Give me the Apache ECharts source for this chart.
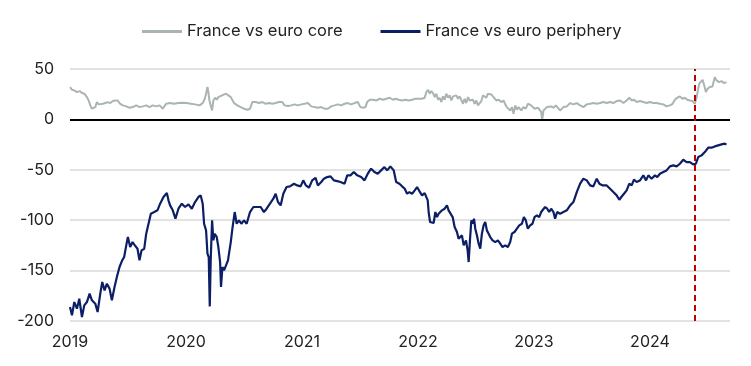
<!DOCTYPE html>
<html>
<head>
<meta charset="utf-8">
<script src="https://cdn.jsdelivr.net/npm/echarts@6/dist/echarts.min.js"></script>
<style>html,body{margin:0;padding:0;background:#fff}#c{width:751px;height:366px}</style>
</head>
<body>
<div id="c"></div>
<script>
// X values are decimal years
const periYears = [2019.000,2019.017,2019.037,2019.060,2019.080,2019.103,2019.123,2019.146,2019.169,2019.189,2019.218,2019.238,2019.261,2019.278,2019.298,2019.318,2019.341,2019.361,2019.384,2019.404,2019.427,2019.450,2019.467,2019.485,2019.499,2019.519,2019.539,2019.559,2019.582,2019.599,2019.617,2019.640,2019.657,2019.677,2019.697,2019.726,2019.754,2019.777,2019.806,2019.835,2019.849,2019.863,2019.886,2019.909,2019.935,2019.964,2019.992,2020.021,2020.050,2020.078,2020.107,2020.127,2020.144,2020.156,2020.173,2020.185,2020.196,2020.205,2020.213,2020.225,2020.236,2020.248,2020.265,2020.279,2020.294,2020.302,2020.314,2020.328,2020.345,2020.362,2020.386,2020.400,2020.420,2020.437,2020.457,2020.477,2020.500,2020.523,2020.552,2020.581,2020.609,2020.644,2020.672,2020.695,2020.724,2020.753,2020.773,2020.793,2020.816,2020.839,2020.867,2020.896,2020.931,2020.959,2020.988,2021.011,2021.034,2021.060,2021.088,2021.117,2021.137,2021.166,2021.189,2021.217,2021.246,2021.275,2021.304,2021.332,2021.367,2021.390,2021.418,2021.447,2021.476,2021.510,2021.539,2021.567,2021.596,2021.625,2021.653,2021.682,2021.711,2021.734,2021.762,2021.791,2021.800,2021.812,2021.840,2021.863,2021.886,2021.906,2021.926,2021.949,2021.972,2021.992,2022.012,2022.035,2022.058,2022.072,2022.084,2022.092,2022.104,2022.121,2022.135,2022.150,2022.164,2022.178,2022.207,2022.230,2022.250,2022.264,2022.279,2022.299,2022.316,2022.336,2022.350,2022.365,2022.379,2022.394,2022.414,2022.428,2022.437,2022.448,2022.460,2022.471,2022.483,2022.494,2022.508,2022.523,2022.537,2022.551,2022.566,2022.580,2022.594,2022.609,2022.623,2022.643,2022.666,2022.689,2022.709,2022.729,2022.752,2022.775,2022.795,2022.810,2022.832,2022.853,2022.873,2022.896,2022.913,2022.930,2022.947,2022.967,2022.987,2023.005,2023.025,2023.045,2023.062,2023.079,2023.096,2023.114,2023.131,2023.148,2023.168,2023.182,2023.200,2023.217,2023.225,2023.254,2023.283,2023.312,2023.340,2023.369,2023.398,2023.426,2023.455,2023.484,2023.512,2023.541,2023.564,2023.593,2023.627,2023.656,2023.684,2023.713,2023.736,2023.753,2023.776,2023.799,2023.822,2023.842,2023.862,2023.885,2023.914,2023.943,2023.966,2023.986,2024.014,2024.043,2024.063,2024.086,2024.115,2024.143,2024.172,2024.201,2024.230,2024.258,2024.287,2024.316,2024.344,2024.373,2024.396,2024.416,2024.445,2024.473,2024.502,2024.531,2024.559,2024.588,2024.617,2024.645,2024.660];
const periVals = [-186.1,-194.4,-181.2,-187.8,-177.9,-196.0,-184.5,-181.2,-172.9,-179.5,-182.8,-191.1,-172.9,-161.3,-169.6,-163.0,-167.9,-179.5,-166.3,-156.4,-146.4,-139.8,-136.5,-125.0,-116.7,-126.6,-121.7,-125.0,-128.3,-139.8,-129.9,-128.3,-113.4,-103.5,-93.6,-91.9,-90.2,-83.6,-77.0,-73.1,-80.3,-85.3,-90.2,-98.5,-88.6,-83.6,-86.9,-84.3,-88.6,-82.0,-77.0,-75.4,-83.6,-103.5,-110.1,-133.2,-136.5,-185.5,-139.8,-100.2,-120.0,-113.4,-116.7,-126.6,-141.5,-166.3,-146.4,-149.8,-148.1,-139.8,-121.7,-108.4,-91.9,-103.5,-100.2,-103.5,-100.2,-103.5,-91.9,-86.9,-86.9,-86.9,-91.9,-88.6,-83.6,-78.7,-73.7,-82.0,-85.3,-73.7,-67.1,-66.4,-63.8,-65.5,-66.4,-60.5,-65.5,-67.8,-60.5,-57.9,-65.5,-62.1,-58.8,-57.2,-56.5,-60.5,-61.2,-62.1,-63.8,-55.5,-55.5,-52.2,-55.5,-57.2,-60.5,-53.9,-48.9,-52.2,-53.9,-50.6,-47.3,-50.6,-46.6,-50.6,-50.0,-62.1,-63.8,-66.4,-68.8,-73.7,-72.1,-73.7,-70.4,-67.1,-71.1,-75.4,-73.1,-73.7,-80.3,-91.9,-101.8,-100.2,-102.8,-91.9,-96.9,-93.6,-90.2,-88.6,-85.3,-90.2,-91.9,-96.9,-106.8,-111.7,-118.3,-120.0,-115.0,-125.0,-120.0,-129.9,-141.5,-120.0,-100.2,-103.5,-98.5,-108.4,-115.0,-123.3,-128.3,-113.4,-105.1,-101.8,-110.1,-113.4,-116.7,-120.0,-121.7,-120.0,-123.3,-126.6,-125.0,-126.6,-121.7,-113.4,-111.7,-108.4,-105.1,-103.5,-96.9,-100.2,-108.4,-105.1,-103.5,-96.9,-95.2,-96.9,-91.9,-90.2,-86.9,-88.6,-91.9,-88.6,-91.9,-98.5,-91.9,-90.2,-93.6,-91.9,-90.2,-85.3,-82.0,-72.1,-63.8,-58.8,-60.5,-65.5,-66.4,-58.8,-63.8,-65.5,-65.5,-68.8,-72.1,-75.4,-79.7,-77.0,-73.7,-70.4,-63.8,-65.5,-59.8,-62.1,-60.5,-55.5,-60.5,-55.5,-58.8,-55.5,-57.2,-53.9,-52.2,-50.6,-46.6,-45.6,-46.6,-44.0,-40.0,-42.3,-42.3,-44.6,-44.0,-37.4,-35.7,-32.4,-28.1,-28.1,-26.8,-25.8,-24.8,-24.1,-24.8];

const coreYears = [2019.000,2019.017,2019.037,2019.060,2019.083,2019.103,2019.123,2019.146,2019.161,2019.175,2019.189,2019.204,2019.218,2019.232,2019.247,2019.261,2019.284,2019.304,2019.324,2019.347,2019.370,2019.390,2019.410,2019.433,2019.456,2019.485,2019.513,2019.542,2019.571,2019.600,2019.628,2019.657,2019.686,2019.714,2019.743,2019.772,2019.800,2019.829,2019.863,2019.898,2019.935,2019.973,2020.007,2020.041,2020.079,2020.116,2020.144,2020.162,2020.173,2020.185,2020.193,2020.202,2020.213,2020.225,2020.236,2020.251,2020.265,2020.279,2020.294,2020.311,2020.328,2020.345,2020.365,2020.386,2020.414,2020.443,2020.472,2020.500,2020.529,2020.552,2020.572,2020.601,2020.629,2020.658,2020.687,2020.715,2020.744,2020.773,2020.801,2020.830,2020.850,2020.879,2020.908,2020.936,2020.965,2020.994,2021.022,2021.051,2021.080,2021.108,2021.137,2021.166,2021.194,2021.223,2021.252,2021.281,2021.309,2021.338,2021.367,2021.395,2021.424,2021.453,2021.481,2021.504,2021.527,2021.547,2021.562,2021.585,2021.613,2021.642,2021.671,2021.699,2021.728,2021.757,2021.785,2021.806,2021.834,2021.863,2021.892,2021.920,2021.949,2021.978,2022.006,2022.035,2022.058,2022.072,2022.087,2022.101,2022.115,2022.130,2022.144,2022.158,2022.173,2022.187,2022.201,2022.216,2022.230,2022.244,2022.259,2022.273,2022.287,2022.302,2022.316,2022.330,2022.345,2022.359,2022.373,2022.388,2022.402,2022.416,2022.431,2022.445,2022.460,2022.474,2022.488,2022.503,2022.517,2022.531,2022.546,2022.560,2022.574,2022.589,2022.603,2022.617,2022.632,2022.646,2022.660,2022.675,2022.695,2022.718,2022.738,2022.752,2022.766,2022.781,2022.795,2022.810,2022.824,2022.838,2022.853,2022.867,2022.890,2022.910,2022.930,2022.947,2022.962,2022.976,2022.990,2023.005,2023.019,2023.033,2023.048,2023.062,2023.071,2023.082,2023.096,2023.111,2023.125,2023.148,2023.168,2023.188,2023.205,2023.225,2023.254,2023.283,2023.312,2023.340,2023.369,2023.398,2023.426,2023.455,2023.484,2023.512,2023.541,2023.570,2023.598,2023.627,2023.656,2023.684,2023.713,2023.742,2023.771,2023.799,2023.822,2023.842,2023.862,2023.885,2023.914,2023.943,2023.971,2024.000,2024.029,2024.057,2024.086,2024.115,2024.143,2024.172,2024.195,2024.215,2024.235,2024.258,2024.281,2024.301,2024.321,2024.344,2024.367,2024.387,2024.402,2024.413,2024.425,2024.439,2024.454,2024.468,2024.482,2024.497,2024.516,2024.539,2024.559,2024.573,2024.596,2024.617,2024.637,2024.660];
const coreVals = [32.1,29.4,28.8,27.1,28.1,26.1,25.5,22.1,18.8,13.9,10.6,8.9,12.2,17.2,14.9,16.2,15.5,16.2,17.2,16.2,18.2,18.8,18.8,15.5,13.9,12.9,11.6,12.2,13.9,12.2,12.9,13.9,12.2,13.9,12.9,13.9,10.6,15.5,16.2,15.5,16.2,16.5,16.2,15.5,14.9,13.9,16.2,20.5,25.5,32.1,27.1,18.8,13.9,8.9,18.8,21.5,19.5,22.1,20.5,23.8,22.8,25.5,23.8,22.1,16.2,13.9,12.2,10.6,9.6,10.6,17.2,17.2,16.2,17.2,15.5,16.2,15.5,16.2,17.2,17.2,13.9,13.2,13.9,14.9,13.9,14.9,15.5,16.2,12.9,12.2,11.6,12.2,10.6,10.6,12.9,13.9,14.9,13.9,15.5,16.2,14.9,16.2,17.2,12.2,11.6,12.2,17.2,19.5,19.5,18.8,20.5,19.5,20.5,21.5,19.5,20.5,19.5,18.8,19.5,18.8,19.5,20.5,20.5,20.5,21.5,27.1,29.4,25.5,28.1,26.1,22.1,25.5,19.5,21.5,17.2,22.8,19.5,25.5,21.5,23.8,18.8,22.8,21.5,23.8,20.5,22.8,19.5,15.5,20.5,16.2,22.1,18.8,17.2,19.5,15.5,18.8,13.9,15.5,18.2,23.8,25.5,21.5,25.5,23.8,24.8,22.8,22.1,18.8,19.5,17.2,18.8,14.9,12.2,13.9,8.9,12.2,5.6,13.9,9.6,12.2,8.9,12.2,10.6,15.5,16.2,13.9,12.2,10.6,8.9,11.6,9.6,7.3,-0.3,8.9,9.6,12.2,10.6,12.9,11.6,13.9,12.9,8.9,12.2,12.9,16.2,14.9,16.2,13.9,12.2,14.9,15.5,16.2,15.5,16.2,17.2,16.2,17.2,16.2,18.2,18.8,16.2,18.8,21.5,18.8,19.5,17.2,18.2,17.2,16.2,17.2,16.2,16.2,15.5,14.9,12.9,13.9,15.5,19.5,21.5,22.8,20.5,21.5,19.5,18.8,18.2,15.5,21.5,28.8,35.4,33.7,39.3,33.7,27.1,30.4,32.1,32.7,42.0,38.7,37.0,38.0,36.0,37.0];

const seriesNames = ['France vs euro core', 'France vs euro periphery'];
const yearTicks = ['2019','2020','2021','2022','2023','2024'];
const eventYear = 2024.387; // vertical marker (dashed)

const FONT = 'Inter';
const chart = echarts.init(document.getElementById('c'), null, {renderer: 'canvas'});
chart.setOption({
  animation: false,
  backgroundColor: '#fff',
  textStyle: {fontFamily: FONT},
  grid: {left: 70, right: 21, top: 69, bottom: 45},
  legend: {
    top: 18, left: 137, icon: 'rect', itemWidth: 40, itemHeight: 3, itemGap: 38,
    textStyle: {fontSize: 16.5, color: '#222', fontFamily: FONT},
    data: seriesNames
  },
  xAxis: {
    type: 'value', min: 2019, max: 2024.69, interval: 1,
    axisLine: {show: false}, axisTick: {show: false}, splitLine: {show: false},
    axisLabel: {
      fontSize: 16, color: '#222', margin: 13, fontFamily: FONT,
      formatter: v => { const r = Math.round(v); return (Math.abs(v - r) < 1e-6 && yearTicks.includes(String(r))) ? String(r) : ''; }
    }
  },
  yAxis: {
    type: 'value', min: -200, max: 50, interval: 50,
    axisLine: {show: false}, axisTick: {show: false},
    splitLine: {lineStyle: {color: '#d9d9d9', width: 1.5}},
    axisLabel: {fontSize: 16, color: '#222', margin: 16, fontFamily: FONT}
  },
  series: [
    {
      name: seriesNames[0], type: 'line', showSymbol: false, symbol: 'none',
      color: '#aab4b4', lineStyle: {width: 2, color: '#aab4b4'},
      data: coreYears.map((y, i) => [y, coreVals[i]]), z: 2
    },
    {
      name: seriesNames[1], type: 'line', showSymbol: false, symbol: 'none',
      color: '#0c1f66', lineStyle: {width: 2.2, color: '#0c1f66'},
      data: periYears.map((y, i) => [y, periVals[i]]), z: 3,
      markLine: {
        silent: true, symbol: 'none', label: {show: false}, animation: false,
        data: [
          {yAxis: 0, lineStyle: {color: '#000', width: 2, type: 'solid'}},
          {xAxis: eventYear, lineStyle: {color: '#c00000', width: 2, type: [6, 4]}}
        ]
      }
    }
  ]
});
</script>
</body>
</html>
